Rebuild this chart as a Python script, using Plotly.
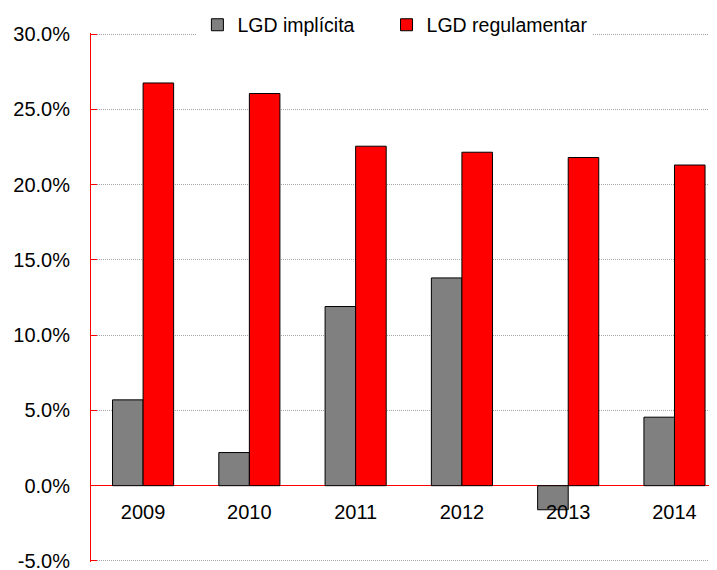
import plotly.graph_objects as go

# categories and values (in %)
years = ["2009", "2010", "2011", "2012", "2013", "2014"]
lgd_implicita = [5.7, 2.2, 11.9, 13.8, -1.6, 4.55]
lgd_regulamentar = [26.75, 26.05, 22.55, 22.15, 21.8, 21.3]
# y tick values and labels
tick_vals = [-5, 0, 5, 10, 15, 20, 25, 30]
tick_labels = ["-5.0%", "0.0%", "5.0%", "10.0%", "15.0%", "20.0%", "25.0%", "30.0%"]

fig = go.Figure()
# non-breaking spaces widen the gap between the two legend entries
fig.add_trace(go.Bar(x=years, y=lgd_implicita, name="LGD implícita\u00a0\u00a0\u00a0\u00a0\u00a0",
                     marker=dict(color="#808080", line=dict(color="#000000", width=1))))
fig.add_trace(go.Bar(x=years, y=lgd_regulamentar, name="LGD regulamentar",
                     marker=dict(color="#FF0000", line=dict(color="#000000", width=1))))

# page body adds 8px offset, so margins are shifted back by 8px
fig.update_layout(
    width=717, height=570,
    margin=dict(l=83, r=8, t=25, b=16, autoexpand=False),
    paper_bgcolor="white", plot_bgcolor="white",
    font=dict(family="Liberation Sans, Arial", size=20, color="black"),
    barmode="group", bargap=0.425, bargroupgap=0,
    showlegend=True,
    legend=dict(orientation="h", x=0.17, xanchor="left", y=1.015, yanchor="middle",
                bgcolor="white", font=dict(size=19.5), itemwidth=30),
)
# x axis sits on the zero line
fig.update_xaxes(
    type="category", range=[-0.49, 5.4],
    anchor="free", position=5 / 35,
    showline=False, showgrid=False, ticks="",
    ticklabelstandoff=12, automargin=False,
    tickfont=dict(size=20, color="black"),
)
fig.update_yaxes(
    range=[-5.07, 30.07], tickmode="array", tickvals=tick_vals, ticktext=tick_labels,
    showline=True, linecolor="#FF0000", linewidth=1,
    ticks="inside", tickcolor="#FF0000", ticklen=6,
    showgrid=True, gridcolor="#A6A6A6", griddash="1px,1px", gridwidth=1,
    zeroline=True, zerolinecolor="#FF0000", zerolinewidth=1,
    ticklabelstandoff=16, automargin=False,
    tickfont=dict(size=20, color="black"),
)

fig.write_html("out.html")
